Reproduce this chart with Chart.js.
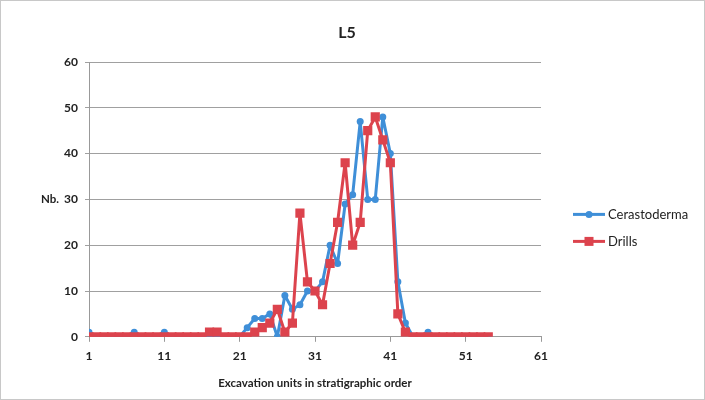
<!DOCTYPE html>
<html>
<head>
<meta charset="utf-8">
<script src="https://cdn.jsdelivr.net/npm/chart.js@4"></script>
<style>
html,body{margin:0;padding:0;background:#fff;}
#wrap{position:absolute;left:0;top:0;width:705px;height:400px;}
</style>
</head>
<body>
<div id="wrap"><canvas id="c" width="705" height="400"></canvas></div>
<script>
const units = [1,2,3,4,5,6,7,8,9,10,11,12,13,14,15,16,17,18,19,20,21,22,23,24,25,26,27,28,29,30,31,32,33,34,35,36,37,38,39,40,41,42,43,44,45,46,47,48,49,50,51,52,53,54];
const cerastoderma = [1,0,0,0,0,0,1,0,0,0,1,0,0,0,0,0,0,0,0,0,0,2,4,4,5,0,9,6,7,10,10,12,20,16,29,31,47,30,30,48,40,12,3,0,0,1,0,0,0,0,0,0,0,0];
const drills = [0,0,0,0,0,0,0,0,0,0,0,0,0,0,0,0,1,1,0,0,0,0,1,2,3,6,1,3,27,12,10,7,16,25,38,20,25,45,48,43,38,5,1,0,0,0,0,0,0,0,0,0,0,0];
const xTicks = [1,11,21,31,41,51,61];
const yTicks = [0,10,20,30,40,50,60];
const seriesNames = ['Cerastoderma','Drills'];
const chartTitle = 'L5';
const xTitle = 'Excavation units in stratigraphic order';
const yTitle = 'Nb.';

const BLUE = '#3f8fd8';
const RED = '#dc434d';
const FONT = 'Lato, "Open Sans", "DejaVu Sans", sans-serif';

const toPts = arr => arr.map((v, i) => ({x: units[i], y: v}));

const extras = {
  id: 'extras',
  afterDraw(chart) {
    const ctx = chart.ctx;
    const ca = chart.chartArea;
    ctx.save();
    // frame
    ctx.strokeStyle = '#c8c8c8';
    ctx.lineWidth = 1;
    ctx.strokeRect(0.5, 0.5, chart.width - 1, chart.height - 1);
    // chart title
    ctx.fillStyle = '#222';
    ctx.font = 'bold 16px ' + FONT;
    ctx.textAlign = 'center';
    ctx.textBaseline = 'middle';
    ctx.fillText(chartTitle, 347, 33);
    // y title horizontal
    ctx.font = 'bold 11.5px ' + FONT;
    ctx.fillText(yTitle, ca.left - 39, (ca.top + ca.bottom) / 2);
    // legend
    const lx = ca.right + 32;
    const ly0 = (ca.top + ca.bottom) / 2 + 15;
    chart.data.datasets.forEach((ds, i) => {
      const y = ly0 + i * 27;
      ctx.strokeStyle = ds.borderColor;
      ctx.lineWidth = 3;
      ctx.beginPath();
      ctx.moveTo(lx, y);
      ctx.lineTo(lx + 32, y);
      ctx.stroke();
      ctx.fillStyle = ds.backgroundColor;
      if (ds.pointStyle === 'rect') {
        ctx.fillRect(lx + 16 - 4.5, y - 4.5, 9, 9);
      } else {
        ctx.beginPath();
        ctx.arc(lx + 16, y, 3.5, 0, Math.PI * 2);
        ctx.fill();
      }
      ctx.fillStyle = '#222';
      ctx.font = '13px ' + FONT;
      ctx.textAlign = 'left';
      ctx.textBaseline = 'middle';
      ctx.fillText(ds.label, lx + 35, y);
    });
    ctx.restore();
  }
};

new Chart(document.getElementById('c'), {
  type: 'line',
  data: {
    datasets: [
      {
        label: seriesNames[0],
        data: toPts(cerastoderma),
        borderColor: BLUE,
        backgroundColor: BLUE,
        borderWidth: 3,
        borderJoinStyle: 'round',
        pointStyle: 'circle',
        pointRadius: 3.5,
        pointBorderWidth: 0,
        tension: 0,
        order: 2
      },
      {
        label: seriesNames[1],
        data: toPts(drills),
        borderColor: RED,
        backgroundColor: RED,
        borderWidth: 3,
        borderJoinStyle: 'round',
        pointStyle: 'rect',
        pointRadius: 6.5,
        pointBorderWidth: 0,
        tension: 0,
        order: 1
      }
    ]
  },
  options: {
    responsive: false,
    animation: false,
    layout: { padding: { left: 0, right: 164, top: 62, bottom: 4 } },
    plugins: {
      legend: { display: false },
      tooltip: { enabled: false },
      title: { display: false }
    },
    scales: {
      x: {
        type: 'linear',
        min: 1,
        max: 61,
        afterBuildTicks: s => { s.ticks = xTicks.map(v => ({value: v})); },
        grid: { drawOnChartArea: false, drawTicks: true, tickLength: 5, color: '#999' },
        border: { display: true, color: '#999', width: 1 },
        ticks: { color: '#222', font: { family: FONT, size: 12, weight: 'bold' }, padding: 7, maxRotation: 0, autoSkip: false },
        title: { display: true, text: xTitle, color: '#222', font: { family: FONT, size: 11.5, weight: 'bold' }, padding: { top: 6, bottom: 6 } }
      },
      y: {
        type: 'linear',
        min: 0,
        max: 60,
        afterBuildTicks: s => { s.ticks = yTicks.map(v => ({value: v})); },
        afterFit: s => { s.width = 89; },
        grid: { color: '#a0a0a0', lineWidth: 1, drawTicks: true, tickLength: 4 },
        border: { display: true, color: '#999', width: 1 },
        ticks: { color: '#222', font: { family: FONT, size: 12, weight: 'bold' }, padding: 7 }
      }
    }
  },
  plugins: [extras]
});
</script>
</body>
</html>
